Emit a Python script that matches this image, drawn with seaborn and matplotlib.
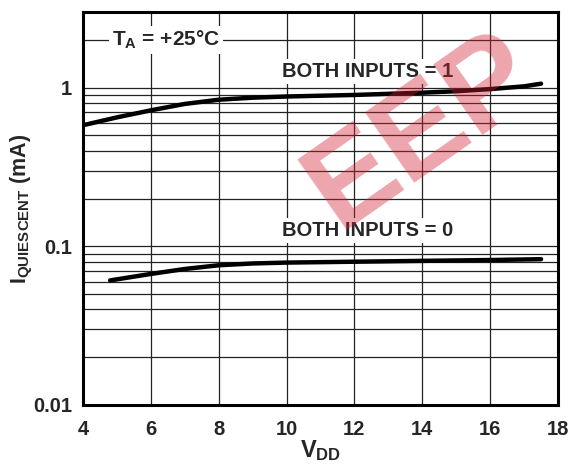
import seaborn as sns
import matplotlib.pyplot as plt
import pandas as pd
from matplotlib.ticker import LogLocator, FixedLocator, NullFormatter

# supply voltage (V) and quiescent current (mA)
vdd_one = [4.0, 5.0, 6.0, 7.0, 8.0, 9.0, 10.0, 11.0, 12.0, 13.0, 14.0, 15.0, 16.0, 17.0, 17.5]
iq_one = [0.58, 0.65, 0.72, 0.79, 0.84, 0.865, 0.88, 0.89, 0.90, 0.915, 0.93, 0.95, 0.98, 1.02, 1.06]
vdd_zero = [4.8, 6.0, 7.0, 8.0, 9.0, 10.0, 12.0, 14.0, 16.0, 17.5]
iq_zero = [0.061, 0.067, 0.072, 0.076, 0.078, 0.079, 0.080, 0.081, 0.082, 0.083]

x_ticks = [4, 6, 8, 10, 12, 14, 16, 18]
y_ticks = [0.01, 0.1, 1]
y_tick_labels = ['0.01', '0.1', '1']

sns.set_style('white')
plt.rcParams['font.family'] = ['Liberation Sans', 'DejaVu Sans']
plt.rcParams['font.weight'] = 'bold'
plt.rcParams['mathtext.fontset'] = 'custom'
plt.rcParams['mathtext.rm'] = 'Liberation Sans:bold'
plt.rcParams['mathtext.it'] = 'Liberation Sans:bold'
plt.rcParams['mathtext.bf'] = 'Liberation Sans:bold'

df = pd.concat([
    pd.DataFrame({'vdd': vdd_one, 'iq': iq_one, 'inputs': '1'}),
    pd.DataFrame({'vdd': vdd_zero, 'iq': iq_zero, 'inputs': '0'}),
])

fig = plt.figure(figsize=(5.68, 4.71), dpi=100)
ax = fig.add_axes([83 / 568, 1 - 405 / 471, (558 - 83) / 568, (405 - 12) / 471])

sns.lineplot(data=df, x='vdd', y='iq', units='inputs', estimator=None,
             color='black', linewidth=3.2, ax=ax, zorder=4)

ax.set_yscale('log')
ax.set_xlim(4, 18)
ax.set_ylim(0.01, 3)

ax.xaxis.set_major_locator(FixedLocator(x_ticks))
ax.yaxis.set_major_locator(FixedLocator(y_ticks))
ax.set_yticklabels(y_tick_labels)
ax.yaxis.set_minor_locator(LogLocator(base=10, subs=range(2, 10)))
ax.yaxis.set_minor_formatter(NullFormatter())

ax.grid(True, which='major', axis='x', color='#222222', linewidth=0.9)
ax.grid(True, which='both', axis='y', color='#222222', linewidth=0.9)
ax.tick_params(axis='both', which='both', length=0, labelsize=14.5)
ax.tick_params(axis='x', pad=11)
ax.tick_params(axis='y', pad=8)
for lab in ax.get_xticklabels() + ax.get_yticklabels():
    lab.set_fontweight('bold')

for sp in ax.spines.values():
    sp.set_linewidth(2.2)
    sp.set_color('black')

ax.set_xlabel(r'$\mathrm{V_{DD}}$', fontsize=17)
ax.xaxis.set_label_coords(0.5, -0.084)
ax.set_ylabel(r'$\mathrm{I_{QUIESCENT}}$ (mA)', fontsize=15.5, fontweight='bold', va='center')
ax.yaxis.set_label_coords(-0.128, 0.5)

box = dict(facecolor='white', edgecolor='none', pad=2)
ax.text(6.45, 2.0, r'$\mathrm{T_A}$ = +25°C', fontsize=15, fontweight='bold',
        ha='center', va='center', bbox=box, zorder=5)
ax.text(12.4, 1.26, 'BOTH INPUTS = 1', fontsize=14.5, fontweight='bold',
        ha='center', va='center', bbox=box, zorder=5)
ax.text(12.4, 0.126, 'BOTH INPUTS = 0', fontsize=14.5, fontweight='bold',
        ha='center', va='center', bbox=box, zorder=5)

# faint watermark seen on the scanned datasheet
fig.text(0.745, 0.72, 'EEP', fontsize=90, fontweight='bold', color='#d42030',
         alpha=0.4, rotation=35, ha='center', va='center', zorder=10)

fig.savefig('out.png', dpi=100)
